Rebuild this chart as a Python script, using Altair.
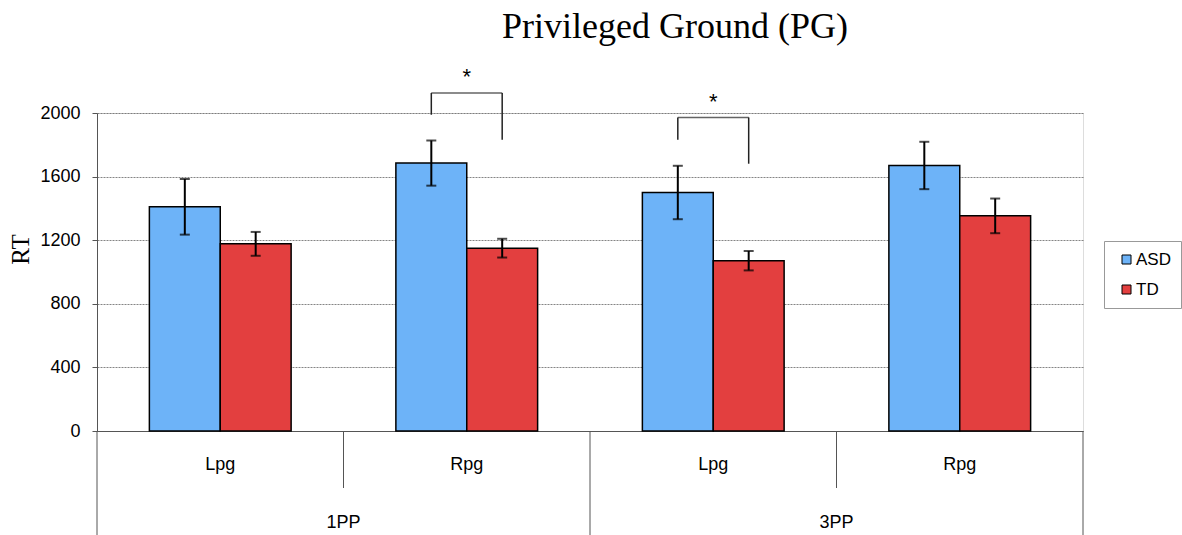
import altair as alt
import pandas as pd

# ---- data ----
perspectives = ["1PP", "1PP", "3PP", "3PP"]
conditions = ["Lpg", "Rpg", "Lpg", "Rpg"]
groups = ["ASD", "TD"]
asd_means = [1410, 1685, 1500, 1670]
asd_err = [175, 142, 168, 149]
td_means = [1177, 1150, 1071, 1353]
td_err = [75, 59, 61, 109]

sig_keys = ["1PP|Rpg", "3PP|Lpg"]
sig_top = [2126, 1972]
sig_asd_end = [1989, 1832]
sig_td_end = [1832, 1681]
sig_star = [2185, 2026]
sig_label = ["*", "*"]

persp_labels = ["1PP", "3PP"]
persp_mid_keys = ["1PP|Rpg", "3PP|Rpg"]
y_ticks = [0, 400, 800, 1200, 1600, 2000]

keys = [f"{p}|{c}" for p, c in zip(perspectives, conditions)]

rows = []
for k, m, e in zip(keys, asd_means, asd_err):
    rows.append({"key": k, "group": "ASD", "rt": m, "lo": m - e, "hi": m + e})
for k, m, e in zip(keys, td_means, td_err):
    rows.append({"key": k, "group": "TD", "rt": m, "lo": m - e, "hi": m + e})
bars_df = pd.DataFrame(rows)

vrows = []
for k, top, a, t in zip(sig_keys, sig_top, sig_asd_end, sig_td_end):
    vrows.append({"key": k, "group": "ASD", "end": a, "top": top})
    vrows.append({"key": k, "group": "TD", "end": t, "top": top})
vert_df = pd.DataFrame(vrows)
sig_df = pd.DataFrame({"key": sig_keys, "top": sig_top, "star": sig_star, "label": sig_label})

short_sep_df = pd.DataFrame({"key": [keys[1], keys[3]]})
long_sep_df = pd.DataFrame({"key": [keys[0], keys[2]]})
end_sep_df = pd.DataFrame({"key": [keys[3]]})
persp_df = pd.DataFrame({"key": persp_mid_keys, "label": persp_labels})

W, H = 986, 318
AXC = "#555555"
FONT = "Liberation Sans"
FS = 18

xscale = alt.Scale(domain=keys, paddingInner=0, paddingOuter=0)
offscale = alt.Scale(domain=groups, paddingOuter=0.739, paddingInner=0)
yscale = alt.Scale(domain=[0, 2000], nice=False)

x_axis = alt.Axis(
    title=None, ticks=False, domain=True, domainColor=AXC, domainWidth=1,
    labelExpr="split(datum.label, '|')[1]", labelAngle=0, labelPadding=24,
    labelFontSize=FS, labelFont=FONT, labelColor="black", grid=False,
)


def xenc(band=None):
    if band is None:
        return alt.X("key:N", scale=xscale, sort=keys, axis=x_axis)
    return alt.X("key:N", scale=xscale, sort=keys, axis=x_axis, bandPosition=band)


off_enc = alt.XOffset("group:N", scale=offscale, sort=groups)

bars = alt.Chart(bars_df).mark_bar(stroke="black", strokeWidth=1.5).encode(
    x=xenc(),
    xOffset=off_enc,
    y=alt.Y(
        "rt:Q", scale=yscale,
        axis=alt.Axis(
            title="RT", values=y_ticks, format="d", grid=True, gridColor="#666666",
            gridDash=[2, 1], gridWidth=0.8, domainColor=AXC, tickColor=AXC, tickSize=5,
            labelPadding=12, labelFontSize=FS, labelFont=FONT, labelColor="black",
            titleFont="Liberation Serif", titleFontSize=25, titleFontWeight="normal",
            titleColor="black", titleAngle=270, titleX=-77, titleY=136,
            titleAlign="center", titleBaseline="middle",
        ),
    ),
    color=alt.Color(
        "group:N",
        scale=alt.Scale(domain=groups, range=["#6DB3F8", "#E33F3F"]),
        legend=alt.Legend(
            title=None, orient="none", legendX=1007, legendY=128, strokeColor="#999999",
            padding=10, symbolOffset=4, rowPadding=12, symbolType="square", symbolSize=81,
            symbolStrokeColor="black", symbolStrokeWidth=1, labelFontSize=17,
            labelFont=FONT, labelColor="black", labelOffset=1,
        ),
    ),
)

err = alt.Chart(bars_df).mark_rule(color="black", strokeWidth=2).encode(
    x=xenc(), xOffset=off_enc,
    y=alt.Y("lo:Q", scale=yscale), y2="hi:Q",
)
cap_lo = alt.Chart(bars_df).mark_tick(color="black", thickness=2, size=10).encode(
    x=xenc(), xOffset=off_enc, y=alt.Y("lo:Q", scale=yscale),
)
cap_hi = alt.Chart(bars_df).mark_tick(color="black", thickness=2, size=10).encode(
    x=xenc(), xOffset=off_enc, y=alt.Y("hi:Q", scale=yscale),
)

br_vert = alt.Chart(vert_df).mark_rule(color="#222222", strokeWidth=1.5).encode(
    x=xenc(), xOffset=off_enc,
    y=alt.Y("end:Q", scale=yscale), y2="top:Q",
)
br_horiz = alt.Chart(sig_df).mark_tick(color="#222222", thickness=1.5, size=71).encode(
    x=xenc(), y=alt.Y("top:Q", scale=yscale),
)
stars = alt.Chart(sig_df).mark_text(fontSize=22, font=FONT, color="black", baseline="alphabetic").encode(
    x=xenc(), y=alt.Y("star:Q", scale=yscale), text="label:N",
)

short_sep = alt.Chart(short_sep_df).mark_rule(color=AXC, strokeWidth=1).encode(
    x=xenc(0), y=alt.value(H), y2=alt.value(H + 57),
)
long_sep = alt.Chart(long_sep_df).mark_rule(color=AXC, strokeWidth=1).encode(
    x=xenc(0), y=alt.value(H), y2=alt.value(H + 104),
)
end_sep = alt.Chart(end_sep_df).mark_rule(color=AXC, strokeWidth=1).encode(
    x=xenc(1), y=alt.value(H), y2=alt.value(H + 104),
)
persp_text = alt.Chart(persp_df).mark_text(fontSize=FS, font=FONT, color="black", baseline="alphabetic").encode(
    x=xenc(0), y=alt.value(H + 97), text="label:N",
)

chart = alt.layer(
    bars, err, cap_lo, cap_hi, br_vert, br_horiz, stars,
    short_sep, long_sep, end_sep, persp_text,
).properties(
    width=W,
    height=H,
    autosize=alt.AutoSizeParams(type="none"),
    padding={"left": 97, "top": 113, "right": 99, "bottom": 104},
    title=alt.TitleParams(
        "Privileged Ground (PG)", font="Liberation Serif", fontSize=36,
        fontWeight="normal", anchor="middle", dx=85, offset=20, color="black",
    ),
).configure_view(strokeWidth=0).configure(font=FONT, background="white")

chart.save("out.html", embed_options={"renderer": "svg", "actions": False})
